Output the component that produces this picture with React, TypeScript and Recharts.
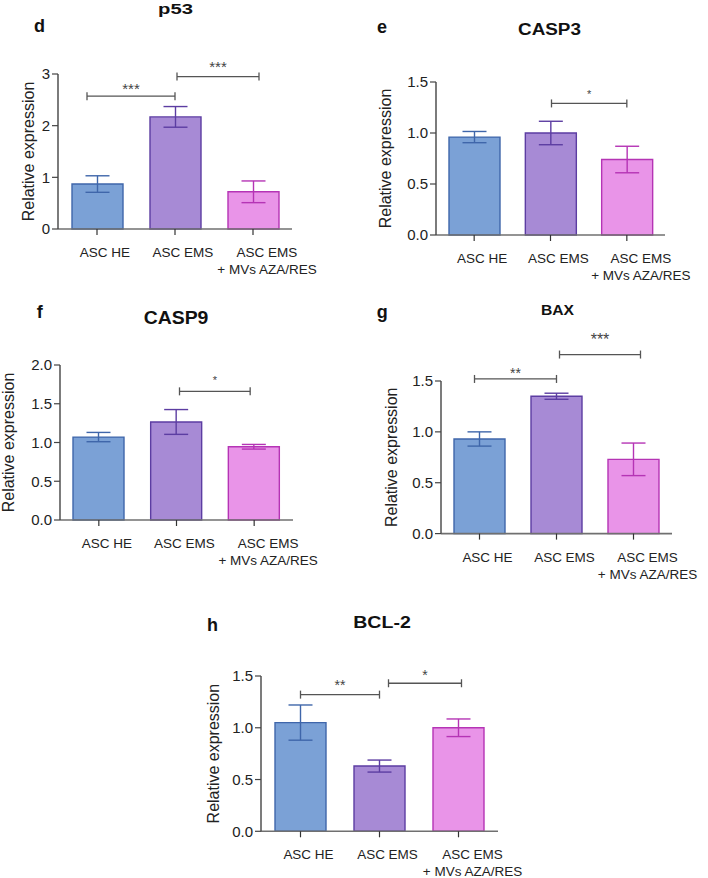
import React from 'react';
import { BarChart, Bar, XAxis, YAxis, ErrorBar, ReferenceLine } from 'recharts';

const groups = ['ASC HE', 'ASC EMS', 'ASC EMS + MVs AZA/RES'];
const groupLines = [['ASC HE'], ['ASC EMS'], ['ASC EMS', '+ MVs AZA/RES']];

// mean and error bar half-length
const p53Mean = [0.87, 2.17, 0.72];
const p53Err = [0.16, 0.2, 0.21];
const p53Ticks = [0, 1, 2, 3];
const p53Sig = [
  { from: 0, to: 1, y: 2.57, mark: '***' },
  { from: 1, to: 2, y: 2.95, mark: '***' },
];

const casp3Mean = [0.96, 1.0, 0.74];
const casp3Err = [0.055, 0.115, 0.13];
const casp3Ticks = [0, 0.5, 1.0, 1.5];
const casp3Sig = [{ from: 1, to: 2, y: 1.29, mark: '*' }];

const casp9Mean = [1.07, 1.265, 0.945];
const casp9Err = [0.06, 0.16, 0.03];
const casp9Ticks = [0, 0.5, 1.0, 1.5, 2.0];
const casp9Sig = [{ from: 1, to: 2, y: 1.66, mark: '*' }];

const baxMean = [0.93, 1.35, 0.73];
const baxErr = [0.07, 0.03, 0.16];
const baxTicks = [0, 0.5, 1.0, 1.5];
const baxSig = [
  { from: 0, to: 1, y: 1.52, mark: '**' },
  { from: 1, to: 2, y: 1.76, mark: '***' },
];

const bcl2Mean = [1.05, 0.63, 1.0];
const bcl2Err = [0.17, 0.058, 0.085];
const bcl2Ticks = [0, 0.5, 1.0, 1.5];
const bcl2Sig = [
  { from: 0, to: 1, y: 1.32, mark: '**' },
  { from: 1, to: 2, y: 1.43, mark: '*' },
];

const FONT = "'Liberation Sans', Arial, Helvetica, sans-serif";
const barFill = ['#7ba1d6', '#a78ad5', '#e994e8'];
const barStroke = ['#3f66aa', '#5c3da2', '#b534b5'];
const tickDx = [8, 8, 14];
const xAxisIds = ['a', 'b', 'c'];

const ML = 60;
const MT = 60;
const MR = 44;
const MB = 60;

const XTick = (props: any) => {
  const { x, y, index } = props;
  const lines = groupLines[index] || [];
  return (
    <g>
      {lines.map((l, k) => (
        <text
          key={k}
          x={x + tickDx[index]}
          y={y + 22 + k * 17}
          textAnchor="middle"
          fontSize={13.5}
          fontFamily={FONT}
          fill="#222"
        >
          {l}
        </text>
      ))}
    </g>
  );
};

const Bracket = (props: any) => {
  const { x1, y1, x2, look, mark } = props;
  if (x1 == null || y1 == null) return null;
  const xa = x1 + look.dx1;
  const xb = x2 + look.dx2;
  return (
    <g>
      <line x1={xa} x2={xb} y1={y1} y2={y1} stroke="#555" strokeWidth={1.3} />
      <line x1={xa} x2={xa} y1={y1 - 4} y2={y1 + 4} stroke="#555" strokeWidth={1.3} />
      <line x1={xb} x2={xb} y1={y1 - 4} y2={y1 + 4} stroke="#555" strokeWidth={1.3} />
      <text
        x={(xa + xb) / 2}
        y={y1 - look.gap + 0.58 * look.fs}
        textAnchor="middle"
        fontSize={look.fs}
        fontFamily={FONT}
        fill="#444"
      >
        {mark}
      </text>
    </g>
  );
};

function Panel({ mean, err, ticks, decimals, sig, box, looks }: any) {
  const rows = groups.map((name, i) => {
    const row: any = { name };
    xAxisIds.forEach((_, k) => {
      row[`v${k}`] = k === i ? mean[i] : null;
      row[`e${k}`] = k === i ? err[i] : null;
    });
    return row;
  });
  const plotH = box.bottom - box.top;
  const w = box.x1 - box.x0 + ML + MR;
  const h = plotH + MT + MB;
  const max = ticks[ticks.length - 1];

  return (
    <div style={{ position: 'absolute', left: box.x0 - ML, top: box.top - MT, width: w, height: h }}>
      <BarChart width={w} height={h} data={rows} margin={{ top: MT, right: MR, bottom: 0, left: 0 }}>
        <XAxis
          xAxisId="a"
          dataKey="name"
          height={MB}
          interval={0}
          tickSize={6}
          tickMargin={0}
          axisLine={{ stroke: '#707070', strokeWidth: 1.6 }}
          tickLine={{ stroke: '#333', strokeWidth: 1.2 }}
          tick={(p: any) => <XTick {...p} />}
        />
        <XAxis xAxisId="b" dataKey="name" hide />
        <XAxis xAxisId="c" dataKey="name" hide />
        <YAxis
          width={ML}
          domain={[0, max]}
          ticks={ticks}
          interval={0}
          tickSize={6}
          tickMargin={2}
          tickFormatter={(v: number) => v.toFixed(decimals)}
          tick={{ fontSize: 15, fill: '#222', fontFamily: FONT }}
          axisLine={{ stroke: '#444', strokeWidth: 1.4 }}
          tickLine={{ stroke: '#444', strokeWidth: 1.2 }}
          label={{
            content: () => (
              <text
                transform={`translate(${ML - box.labelGap + 4}, ${MT + plotH / 2}) rotate(-90)`}
                textAnchor="middle"
                fontSize={16}
                fontFamily={FONT}
                fill="#222"
              >
                Relative expression
              </text>
            ),
          }}
        />
        {xAxisIds.map((id, k) => (
          <Bar
            key={id}
            xAxisId={id}
            dataKey={`v${k}`}
            barSize={51}
            fill={barFill[k]}
            stroke={barStroke[k]}
            strokeWidth={1.4}
            isAnimationActive={false}
          >
            <ErrorBar dataKey={`e${k}`} width={12} stroke={barStroke[k]} strokeWidth={1.4} direction="y" />
          </Bar>
        ))}
        {sig.map((s: any, k: number) => (
          <ReferenceLine
            key={k}
            xAxisId="a"
            ifOverflow="visible"
            segment={[
              { x: groups[s.from], y: s.y },
              { x: groups[s.to], y: s.y },
            ]}
            shape={(p: any) => <Bracket {...p} look={looks[k]} mark={s.mark} />}
          />
        ))}
      </BarChart>
    </div>
  );
}

const headings = [
  { text: 'p53', cx: 175.5, base: 14, fs: 15, sx: 1.35 },
  { text: 'CASP3', cx: 549.5, base: 35, fs: 17, sx: 1.11 },
  { text: 'CASP9', cx: 176, base: 324, fs: 18.5, sx: 1.05 },
  { text: 'BAX', cx: 557.5, base: 315, fs: 14, sx: 1.12 },
  { text: 'BCL-2', cx: 382, base: 628.3, fs: 16.3, sx: 1.2 },
];
const letters = [
  { text: 'd', x: 34, base: 31.7 },
  { text: 'e', x: 377, base: 32.7 },
  { text: 'f', x: 36.7, base: 318 },
  { text: 'g', x: 376.7, base: 318.3 },
  { text: 'h', x: 207, base: 630.7 },
];

export default function App() {
  return (
    <div style={{ position: 'absolute', left: 0, top: 0, width: 708, height: 878, background: '#fff', overflow: 'hidden' }}>
      <svg width={708} height={878} style={{ position: 'absolute', left: 0, top: 0 }}>
        {headings.map((t) => (
          <text
            key={t.text}
            transform={`translate(${t.cx}, ${t.base}) scale(${t.sx}, 1)`}
            textAnchor="middle"
            fontSize={t.fs}
            fontWeight="bold"
            fontFamily={FONT}
            fill="#111"
          >
            {t.text}
          </text>
        ))}
        {letters.map((t) => (
          <text key={t.text} x={t.x} y={t.base} fontSize={18} fontWeight="bold" fontFamily={FONT} fill="#111">
            {t.text}
          </text>
        ))}
      </svg>
      <Panel
        mean={p53Mean}
        err={p53Err}
        ticks={p53Ticks}
        decimals={0}
        sig={p53Sig}
        box={{ x0: 58, x1: 292, top: 74, bottom: 229, labelGap: 28.5 }}
        looks={[
          { dx1: -10, dx2: 0, gap: 11, fs: 15 },
          { dx1: 2, dx2: 6, gap: 13.7, fs: 15 },
        ]}
      />
      <Panel
        mean={casp3Mean}
        err={casp3Err}
        ticks={casp3Ticks}
        decimals={1}
        sig={casp3Sig}
        box={{ x0: 436, x1: 665, top: 82.3, bottom: 235.3, labelGap: 49 }}
        looks={[{ dx1: 1, dx2: 0, gap: 12.3, fs: 11 }]}
      />
      <Panel
        mean={casp9Mean}
        err={casp9Err}
        ticks={casp9Ticks}
        decimals={1}
        sig={casp9Sig}
        box={{ x0: 60, x1: 293, top: 365.3, bottom: 520.3, labelGap: 50 }}
        looks={[{ dx1: 3, dx2: -4, gap: 13.3, fs: 11 }]}
      />
      <Panel
        mean={baxMean}
        err={baxErr}
        ticks={baxTicks}
        decimals={1}
        sig={baxSig}
        box={{ x0: 441, x1: 672, top: 380.7, bottom: 533.3, labelGap: 48 }}
        looks={[
          { dx1: -5, dx2: 0, gap: 9.3, fs: 14 },
          { dx1: 3, dx2: 7, gap: 19.3, fs: 16 },
        ]}
      />
      <Panel
        mean={bcl2Mean}
        err={bcl2Err}
        ticks={bcl2Ticks}
        decimals={1}
        sig={bcl2Sig}
        box={{ x0: 261, x1: 498, top: 676, bottom: 831.3, labelGap: 46 }}
        looks={[
          { dx1: 0, dx2: 0, gap: 12.7, fs: 14 },
          { dx1: 9, dx2: 3, gap: 11, fs: 14 },
        ]}
      />
    </div>
  );
}
